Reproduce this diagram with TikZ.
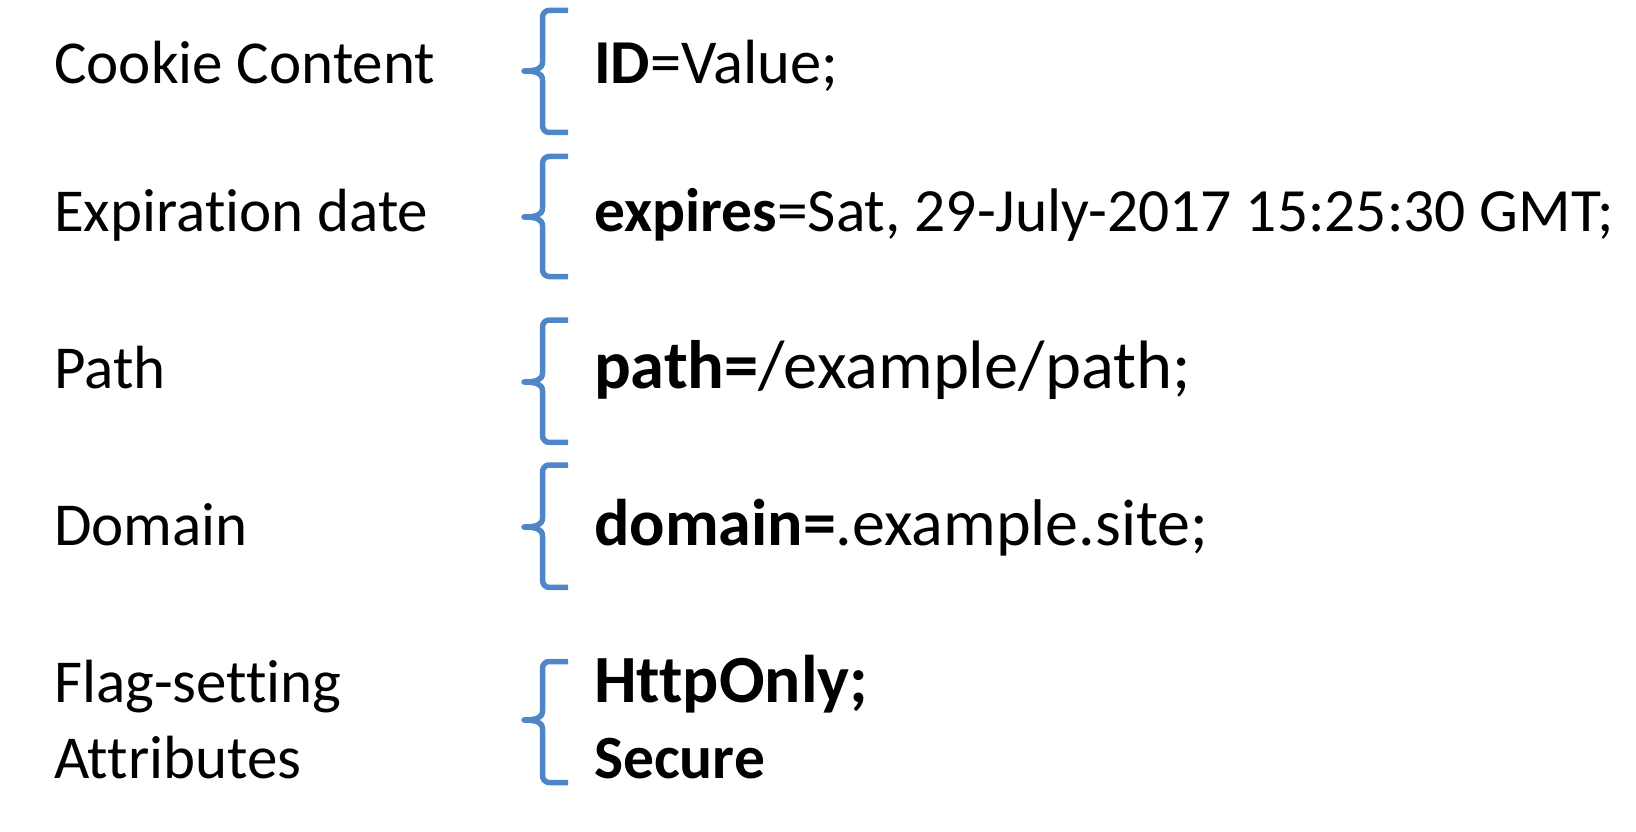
\documentclass[tikz,border=0pt]{standalone}
\usepackage{fontspec}
\setmainfont{Carlito}[RawFeature={-liga;-clig}]
\definecolor{braceblue}{RGB}{78,134,200}
\tikzset{
  lbl/.style={anchor=base west, inner sep=0pt, font=\fontsize{61}{73}\selectfont},
  val/.style={anchor=base west, inner sep=0pt},
  bracestyle/.style={draw=braceblue, line width=5.5pt, line cap=butt, line join=round},
}
\newcommand{\mybrace}[3]{% top, mid, bottom
  \draw[bracestyle] (568,#1) -- (549,#1) to[out=180,in=90] (542.5,#1+7) -- (542.5,#2-9)
    .. controls (542.5,#2-2) and (536,#2) .. (524,#2)
    .. controls (536,#2) and (542.5,#2+2) .. (542.5,#2+9)
    -- (542.5,#3-7) to[out=-90,in=180] (549,#3) -- (568,#3);
}
\begin{document}
\begin{tikzpicture}[x=1pt,y=-1pt]
\useasboundingbox (0,0) rectangle (1636,832);
\node[lbl] (l1) at (54,83.5) {Cookie Content};
\node[lbl] (l2) at (54,231.6) {Expiration date};
\node[lbl] (l3) at (54,388) {Path};
\node[lbl] (l4) at (54,545.7) {Domain};
\node[lbl] (l5a) at (54,702) {Flag-setting};
\node[lbl] (l5b) at (54,778.4) {Attributes};
\node[val, font=\fontsize{62.5}{75}\selectfont] (v1) at (594,83.5) {\textbf{ID}=Value;};
\node[val, font=\fontsize{61.5}{74}\selectfont] (v2) at (594,231.6) {\textbf{expires}=Sat, 29-July-2017 15:25:30 GMT;};
\node[val, font=\fontsize{68.5}{82}\selectfont] (v3) at (594,388) {\textbf{path=}/example/path;};
\node[val, font=\fontsize{66}{79}\selectfont] (v4) at (594,545.7) {\textbf{domain=}.example.site;};
\node[val, font=\fontsize{67.5}{81}\selectfont] (v5a) at (594,702) {\textbf{HttpOnly;}};
\node[val, font=\fontsize{61.5}{74}\selectfont] (v5b) at (594,778.4) {\textbf{Secure}};
\mybrace{10.4}{71}{132.5}
\mybrace{156.5}{217}{276.5}
\mybrace{320}{382}{442.4}
\mybrace{465}{527}{587.4}
\mybrace{661.5}{720}{782.5}
\end{tikzpicture}
\end{document}
